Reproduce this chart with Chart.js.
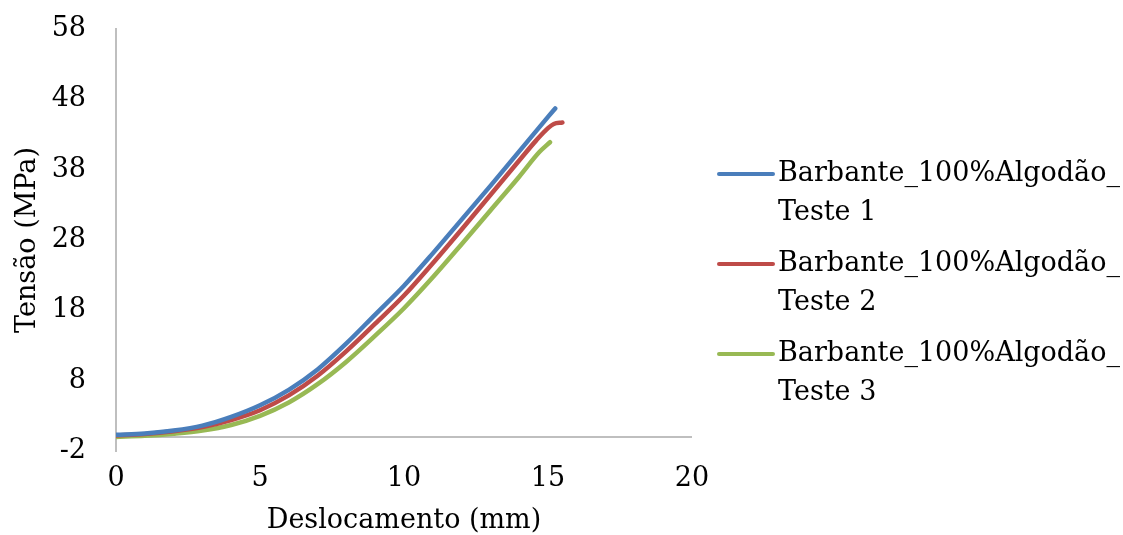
<!DOCTYPE html>
<html>
<head>
<meta charset="utf-8">
<script src="https://cdn.jsdelivr.net/npm/chart.js@4.4.0/dist/chart.umd.min.js"></script>
<style>
  html, body { margin: 0; padding: 0; background: #fff; }
  #wrap { width: 1123px; height: 535px; position: relative; }
</style>
</head>
<body>
<div id="wrap"><canvas id="chart"></canvas></div>
<script>
// Test 1 (blue)
const teste1X = [0, 1, 2, 3, 4, 5, 6, 7, 8, 9, 10, 11, 12, 13, 14, 15, 15.25];
const teste1Y = [0.3, 0.5, 0.9, 1.6, 2.85, 4.5, 6.7, 9.6, 13.3, 17.4, 21.5, 26.1, 30.9, 35.7, 40.6, 45.5, 46.7];
// Test 2 (red)
const teste2X = [0, 1, 2, 3, 4, 5, 6, 7, 8, 9, 10, 11, 12, 13, 14, 14.6, 15.0, 15.2, 15.5];
const teste2Y = [0.2, 0.4, 0.8, 1.4, 2.4, 3.8, 5.9, 8.7, 12.2, 16.1, 20.1, 24.7, 29.5, 34.4, 39.3, 42.2, 43.9, 44.5, 44.7];
// Test 3 (green)
const teste3X = [0, 1, 2, 3, 4, 5, 6, 7, 8, 9, 10, 11, 12, 13, 14, 14.7, 15.07];
const teste3Y = [0, 0.15, 0.45, 0.9, 1.7, 3.0, 4.9, 7.5, 10.7, 14.4, 18.3, 22.7, 27.4, 32.2, 37.0, 40.5, 41.9];

const seriesLabels = ['Barbante_100%Algodão_\nTeste 1', 'Barbante_100%Algodão_\nTeste 2', 'Barbante_100%Algodão_\nTeste 3'];
const seriesColors = ['#4A7EBB', '#BE4B48', '#98B954'];
const yTicks = [-2, 8, 18, 28, 38, 48, 58];
const xTicks = [0, 5, 10, 15, 20];

const FONT = '"DejaVu Serif", "Liberation Serif", serif';
const AXIS_GRAY = '#BFBFBF';

function toPoints(xs, ys) {
  return xs.map((x, i) => ({ x: x, y: ys[i] }));
}

const seriesData = [toPoints(teste1X, teste1Y), toPoints(teste2X, teste2Y), toPoints(teste3X, teste3Y)];

// horizontal axis line drawn at y = 0 (Excel style crossing)
const zeroLine = {
  id: 'zeroLine',
  beforeDatasetsDraw(chart) {
    const { ctx, chartArea, scales } = chart;
    const y = scales.y.getPixelForValue(0);
    ctx.save();
    ctx.strokeStyle = AXIS_GRAY;
    ctx.lineWidth = 2;
    ctx.beginPath();
    ctx.moveTo(chartArea.left, y);
    ctx.lineTo(chartArea.right, y);
    ctx.stroke();
    ctx.restore();
  }
};

// legend on the right with two-line labels
const sideLegend = {
  id: 'sideLegend',
  afterDraw(chart) {
    const { ctx, chartArea } = chart;
    const x0 = chartArea.right + 27;
    const top = chartArea.top + 145;
    ctx.save();
    ctx.font = '27px ' + FONT;
    ctx.textBaseline = 'middle';
    ctx.fillStyle = '#000';
    chart.data.datasets.forEach((ds, i) => {
      const y = top + i * 90;
      ctx.strokeStyle = ds.borderColor;
      ctx.lineWidth = 4;
      ctx.lineCap = 'round';
      ctx.beginPath();
      ctx.moveTo(x0, y);
      ctx.lineTo(x0 + 54, y);
      ctx.stroke();
      ds.label.split('\n').forEach((line, j) => {
        ctx.fillText(line, x0 + 59, y + j * 39);
      });
    });
    ctx.restore();
  }
};

new Chart(document.getElementById('chart'), {
  type: 'scatter',
  data: {
    datasets: seriesData.map((pts, i) => ({
      label: seriesLabels[i],
      data: pts,
      showLine: true,
      borderColor: seriesColors[i],
      backgroundColor: seriesColors[i],
      borderWidth: 4.5,
      pointRadius: 0,
      cubicInterpolationMode: 'monotone',
      borderCapStyle: 'round',
      borderJoinStyle: 'round'
    }))
  },
  options: {
    responsive: true,
    maintainAspectRatio: false,
    animation: false,
    layout: { padding: { left: 8, right: 431, top: 29, bottom: 0 } },
    plugins: { legend: { display: false }, tooltip: { enabled: false } },
    scales: {
      x: {
        type: 'linear',
        min: 0,
        max: 20,
        afterBuildTicks: s => { s.ticks = xTicks.map(v => ({ value: v })); },
        afterFit: s => { s.height = 84; },
        grid: { display: false },
        border: { display: false },
        ticks: { color: '#000', padding: 4, font: { family: FONT, size: 27 } },
        title: { display: true, text: 'Deslocamento (mm)', color: '#000', padding: { top: 4, bottom: -2 }, font: { family: FONT, size: 27 } }
      },
      y: {
        type: 'linear',
        min: -2,
        max: 58,
        afterBuildTicks: s => { s.ticks = yTicks.map(v => ({ value: v })); },
        afterFit: s => { s.width = 108; s.paddingTop = 0; s.paddingBottom = 0; },
        grid: { display: true, drawOnChartArea: false, drawTicks: true, tickLength: 26, color: 'rgba(0,0,0,0)' },
        border: { display: true, color: AXIS_GRAY, width: 2 },
        ticks: { color: '#000', padding: 4, font: { family: FONT, size: 27 } },
        title: { display: true, text: 'Tensão (MPa)', color: '#000', padding: { bottom: 4 }, font: { family: FONT, size: 27 } }
      }
    }
  },
  plugins: [zeroLine, sideLegend]
});
</script>
</body>
</html>
